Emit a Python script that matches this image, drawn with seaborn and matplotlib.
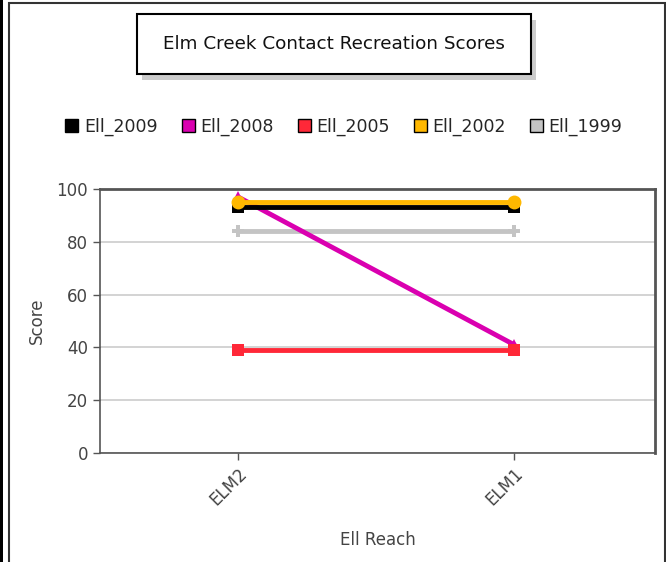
# Elm Creek contact recreation scores by reach, one line per survey year
import pandas as pd
import matplotlib.pyplot as plt
import seaborn as sns
from matplotlib.patches import Rectangle

# Data
reaches = ['ELM2', 'ELM1']
ell_2009 = [93, 93]
ell_2008 = [97, 41]
ell_2005 = [39, 39]
ell_2002 = [95, 95]
ell_1999 = [84, 84]

series_names = ['Ell_2009', 'Ell_2008', 'Ell_2005', 'Ell_2002', 'Ell_1999']
series_values = [ell_2009, ell_2008, ell_2005, ell_2002, ell_1999]
colors = ['#000000', '#DA00B0', '#FF2838', '#FFB800', '#C4C4C4']
markers = ['s', '^', 's', 'o', 'P']
marker_sizes = [8, 8, 8, 10, 9]
zorders = [4, 3, 3.5, 5, 2]

rows = []
for name, vals in zip(series_names, series_values):
    for reach, v in zip(reaches, vals):
        rows.append({'Series': name, 'Reach': reach, 'Score': v})
df = pd.DataFrame(rows)

sns.set_style('white')
plt.rcParams['font.family'] = ['DejaVu Sans']

fig = plt.figure(figsize=(6.66, 5.62), dpi=100)
ax = fig.add_axes([100 / 666, 1 - 453 / 562, 555 / 666, 264 / 562])

for name, color, marker, ms, z in zip(series_names, colors, markers, marker_sizes, zorders):
    sub = df[df['Series'] == name]
    sns.lineplot(data=sub, x='Reach', y='Score', color=color, marker=marker,
                 markersize=ms, markeredgewidth=0, linewidth=3.5, ax=ax,
                 zorder=z, legend=False)

ax.set_xlim(-0.5, 1.51)
ax.set_ylim(0, 100)
ax.set_yticks([0, 20, 40, 60, 80, 100])
ax.yaxis.grid(True, color='#cccccc', linewidth=1.2)
ax.set_axisbelow(True)
for side in ['left', 'bottom']:
    ax.spines[side].set_color('#555555')
    ax.spines[side].set_linewidth(1.2)
for side in ['top', 'right']:
    ax.spines[side].set_color('#555555')
    ax.spines[side].set_linewidth(2)
ax.tick_params(axis='both', direction='out', length=5, width=1, color='#555555',
               labelsize=12, labelcolor='#444444', left=True, bottom=True)
plt.setp(ax.get_xticklabels(), rotation=45, ha='right', rotation_mode='anchor')
ax.set_xlabel('Ell Reach', fontsize=12, color='#444444', labelpad=16)
ax.set_ylabel('Score', fontsize=12, color='#444444', labelpad=8)

# Title box with drop shadow
fig.patches.append(Rectangle((142 / 666, 1 - 80 / 562), 394 / 666, 60 / 562,
                             transform=fig.transFigure, facecolor='#cccccc',
                             edgecolor='none', zorder=1))
fig.patches.append(Rectangle((137 / 666, 1 - 74 / 562), 394 / 666, 60 / 562,
                             transform=fig.transFigure, facecolor='white',
                             edgecolor='black', linewidth=1.5, zorder=2))
fig.text(334 / 666, 1 - 44 / 562, 'Elm Creek Contact Recreation Scores',
         ha='center', va='center', fontsize=13.2, color='#111111', zorder=3)

# Legend row
handles = [Rectangle((0, 0), 1, 1, facecolor=c, edgecolor='black', linewidth=1)
           for c in colors]
fig.legend(handles, series_names, loc='center', bbox_to_anchor=(344 / 666, 1 - 127 / 562),
           ncol=5, frameon=False, fontsize=12.5, handlelength=0.75, handleheight=0.75,
           handletextpad=0.35, columnspacing=1.35, borderaxespad=0)

# Outer frame
fig.patches.append(Rectangle((0, 0), 3 / 666, 1, transform=fig.transFigure,
                             facecolor='black', edgecolor='none'))
fig.patches.append(Rectangle((9 / 666, -0.01), 656 / 666, 1 - 3 / 562 + 0.01,
                             transform=fig.transFigure, facecolor='none',
                             edgecolor='#333333', linewidth=1.5))

plt.savefig('out.png', dpi=100)
plt.close()
